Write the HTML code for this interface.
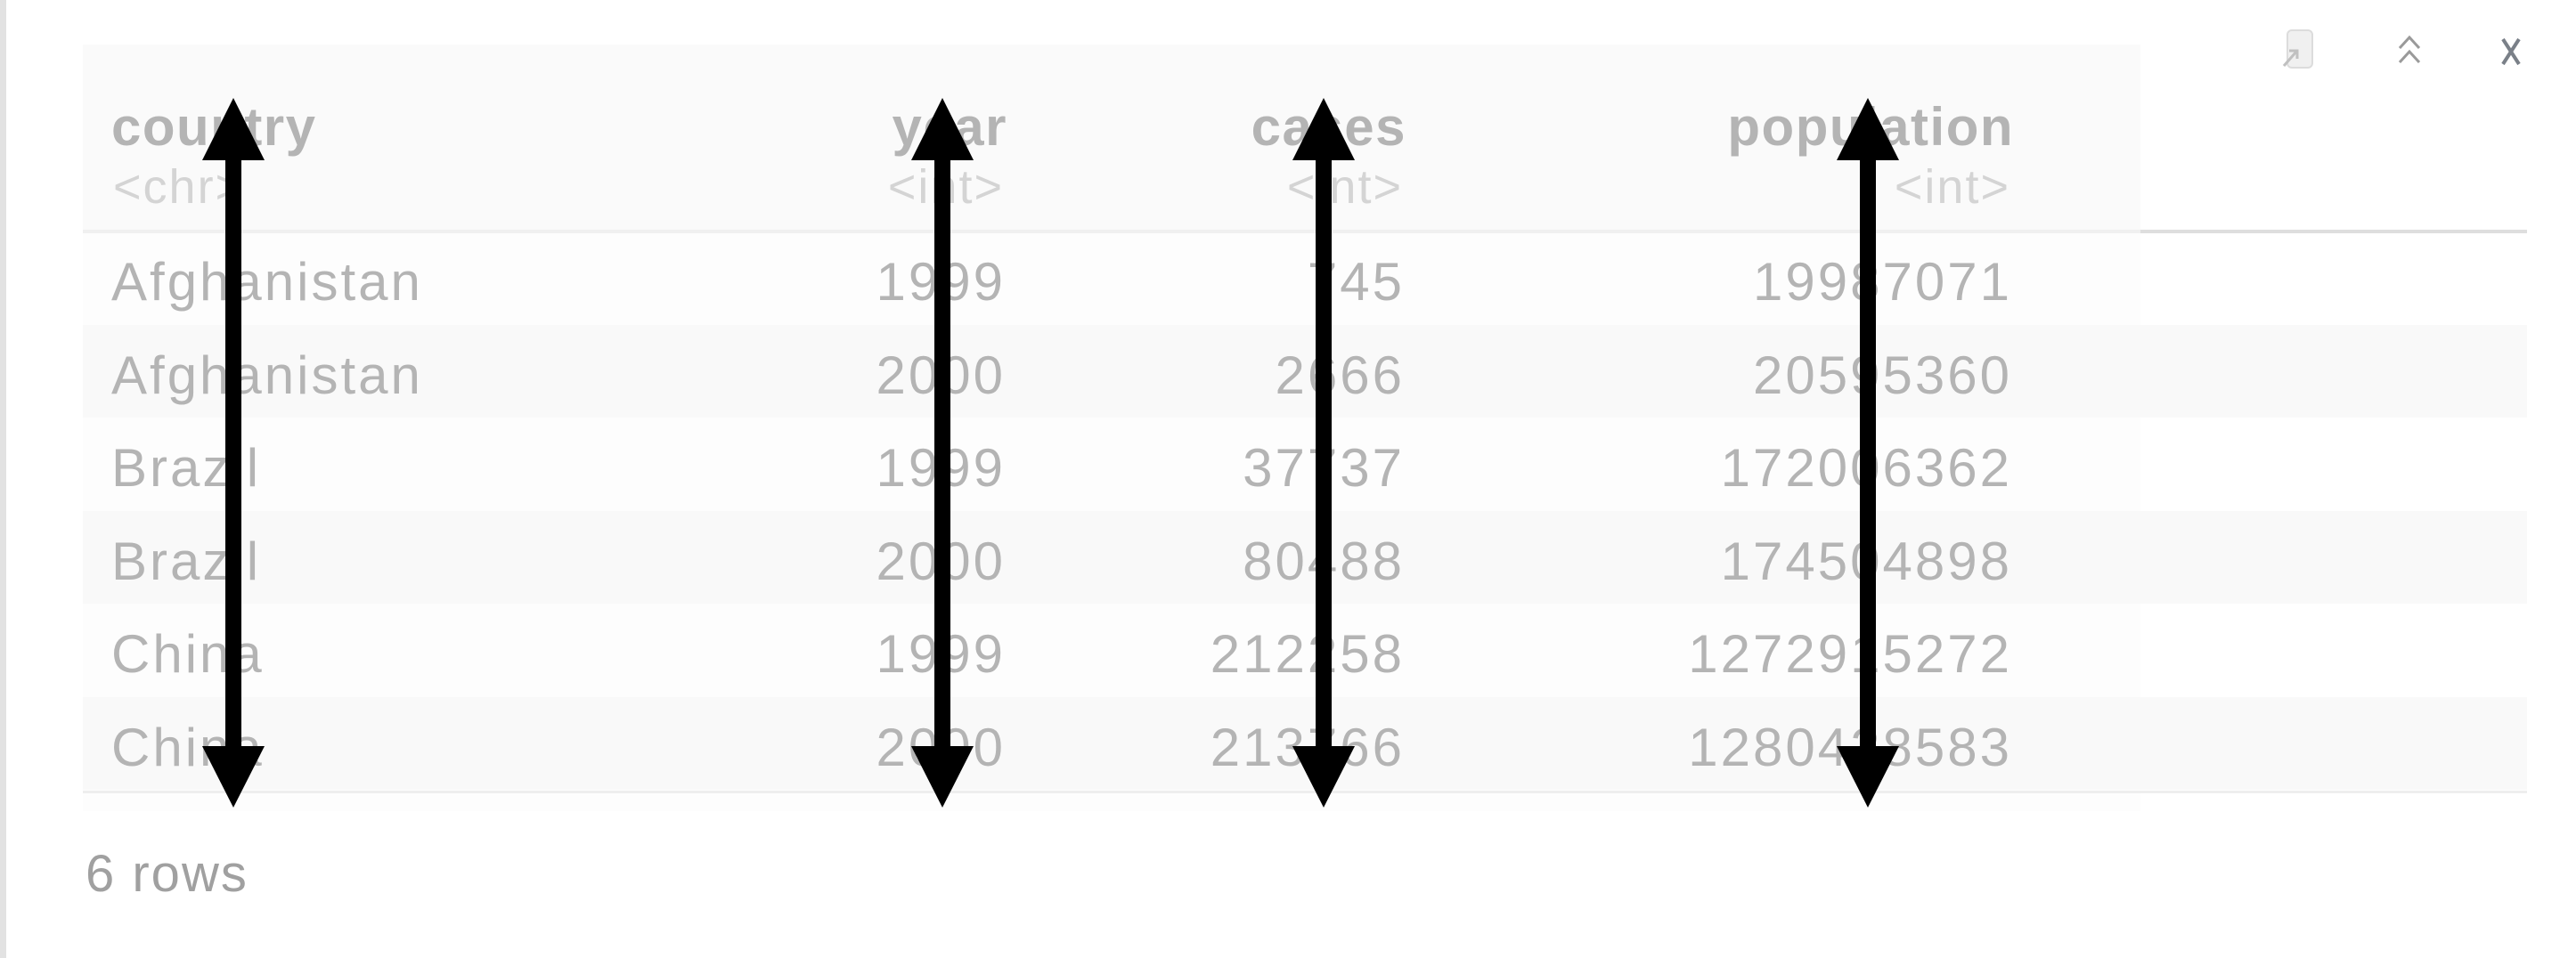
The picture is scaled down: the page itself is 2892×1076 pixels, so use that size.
<!DOCTYPE html>
<html><head><meta charset="utf-8">
<style>
html,body{margin:0;padding:0;background:#fff;}
body{width:2892px;height:1076px;position:relative;overflow:hidden;font-family:"Liberation Sans",sans-serif;}
.abs{position:absolute;}
.cell{position:absolute;font-size:60px;color:#b4b4b4;letter-spacing:3px;white-space:nowrap;line-height:1;}
.hdr{position:absolute;font-size:60px;font-weight:bold;color:#b4b4b4;letter-spacing:1.5px;white-space:nowrap;line-height:1;}
.typ{position:absolute;font-size:54px;color:#d4d4d4;letter-spacing:2px;white-space:nowrap;line-height:1;}
</style></head>
<body>
<div class="abs" style="left:0;top:0;width:7px;height:1076px;background:#e2e2e2"></div>
<div class="abs" style="left:93px;top:50px;width:2310px;height:861px;background:#fdfdfd"></div>
<div class="abs" style="left:93px;top:50px;width:2310px;height:210px;background:#fafafa"></div>
<div class="abs" style="left:93px;top:258px;width:2310px;height:4px;background:#f0f0f0"></div>
<div class="abs" style="left:2403px;top:258px;width:434px;height:4px;background:#dedede"></div>
<div id="rows"></div>
<div class="abs" style="left:93px;top:888px;width:2744px;height:3px;background:#eeeeee"></div>
<div class="abs" style="left:96px;top:953px;font-size:58px;color:#a0a0a0;letter-spacing:2px;line-height:1">6 rows</div>

<svg class="abs" style="left:2540px;top:30px" width="330" height="60">
 <g>
  <rect x="28" y="4" width="28" height="42" rx="5" fill="#f0f0f0" stroke="#dcdcdc" stroke-width="2"/>
  <path d="M24 44 L38 28 M30 27 L39 27 L39 36" stroke="#c0c0c0" stroke-width="3" fill="none"/>
 </g>
 <g>
  <path d="M154 24 L165 12 L176 24 M154 40 L165 28 L176 40" stroke="#9a9a9a" stroke-width="3" fill="none"/>
 </g>
 <g>
  <path d="M270 14 L288 42 M288 14 L270 42" stroke="#7a8088" stroke-width="4" fill="none"/>
 </g>
</svg>

<svg id="arrows" class="abs" style="left:0;top:0" width="2892" height="1076"></svg>

<script>
const columns = ["country","year","cases","population"];
const types = ["<chr>","<int>","<int>","<int>"];
const country = ["Afghanistan","Afghanistan","Brazil","Brazil","China","China"];
const year = [1999,2000,1999,2000,1999,2000];
const cases = [745,2666,37737,80488,212258,213766];
const population = [19987071,20595360,172006362,174504898,1272915272,1280428583];
const arrowCols = [0,1,2,3];

const colEdge = [125,1129,1577,2259];
const arrowX = [262,1058,1486,2097];
const rowTop = 260, rowH = 104.5;
const rows = document.getElementById('rows');
function add(cls,txt,x,y,right){
  const d=document.createElement('div');
  d.className=cls;d.textContent=txt;
  d.style.top=y+'px';
  if(right){d.style.right=(2892-x)+'px';}else{d.style.left=x+'px';}
  rows.appendChild(d);return d;
}
columns.forEach((c,i)=>{
  const h=add('hdr',c,colEdge[i]+(i>0?2:0),113,i>0);
  
  
  const t=add('typ',types[i],colEdge[i]+(i>0?-2:2),183,i>0);
  
  
});
const data=[country,year,cases,population];
for(let r=0;r<country.length;r++){
  const top=rowTop+r*rowH;
  if(r%2===1){
    const bg=document.createElement('div');
    bg.className='abs';
    bg.style.cssText='left:93px;top:'+top+'px;width:2744px;height:'+rowH+'px;background:#f9f9f9';
    
    
    rows.appendChild(bg);
  }
  for(let c=0;c<4;c++){
    const d=add('cell',String(data[c][r]),colEdge[c],top+27,c>0);
    
    
  }
}
const svg=document.getElementById('arrows');
const NS='http://www.w3.org/2000/svg';
arrowCols.forEach(i=>{
  const x=arrowX[i];
  const g=document.createElementNS(NS,'g');
  
  
  const l=document.createElementNS(NS,'rect');
  l.setAttribute('x',x-9);l.setAttribute('y',170);l.setAttribute('width',18);l.setAttribute('height',680);l.setAttribute('fill','#000');
  const p1=document.createElementNS(NS,'polygon');
  p1.setAttribute('points',(x)+',110 '+(x-35)+',180 '+(x+35)+',180');
  const p2=document.createElementNS(NS,'polygon');
  p2.setAttribute('points',(x)+',907 '+(x-35)+',838 '+(x+35)+',838');
  g.appendChild(l);g.appendChild(p1);g.appendChild(p2);
  svg.appendChild(g);
});
</script>
</body></html>
